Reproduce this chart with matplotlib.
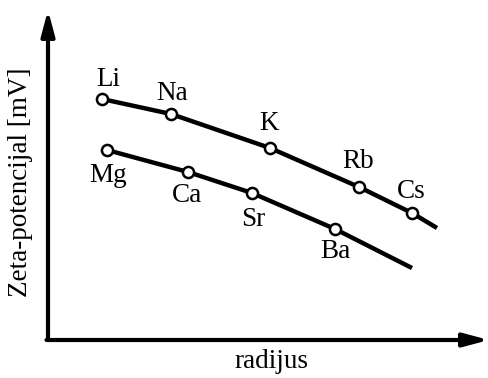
import numpy as np
import matplotlib
matplotlib.use("Agg")
import matplotlib.pyplot as plt

# alkali metals (upper curve) and alkaline earth metals (lower curve)
alkali = ["Li", "Na", "K", "Rb", "Cs"]
alkali_r = [54, 123, 222, 311, 364]
alkali_zeta = [241, 226, 192, 153, 127]
alkali_tail = (389, 112)

earth = ["Mg", "Ca", "Sr", "Ba"]
earth_r = [59, 140, 204, 287]
earth_zeta = [190, 168, 147, 111]
earth_tail = (364, 72)

# label offsets (dx, dy) per ion
alkali_off = [(6, 20), (1, 21), (-1, 25), (-1, 25), (-1, 22)]
earth_off = [(1, -25), (-1, -23), (1, -27), (0, -23)]

plt.rcParams["font.family"] = ["Liberation Serif", "DejaVu Serif"]

fig = plt.figure(figsize=(4.89, 3.78), dpi=100)
ax = fig.add_axes([0, 0, 1, 1])
ax.set_xlim(-48, 441)
ax.set_ylim(-38, 340)
ax.axis("off")

# axes with arrow heads
arrow = dict(arrowstyle="-|>,head_length=1.5,head_width=0.4", lw=3, color="black",
             shrinkA=0, shrinkB=0)
ax.annotate("", xy=(0, 330), xytext=(0, 0), arrowprops=arrow)
ax.annotate("", xy=(441, 0), xytext=(-1.5, 0), arrowprops=arrow)

for names, r, z, tail, off in [(alkali, alkali_r, alkali_zeta, alkali_tail, alkali_off),
                               (earth, earth_r, earth_zeta, earth_tail, earth_off)]:
    xs = list(r) + [tail[0]]
    ys = list(z) + [tail[1]]
    ax.plot(xs, ys, color="black", lw=3.2, solid_capstyle="butt", zorder=2)
    ax.plot(r, z, "o", ms=8, mfc="white", mec="black", mew=1.8, zorder=3)
    for name, x, y, (dx, dy) in zip(names, r, z, off):
        ax.text(x + dx, y + dy, name, fontsize=19.5, ha="center", va="center")

ax.text(223, -22, "radijus", fontsize=19.5, ha="center", va="center")
ax.text(-27, 158, "Zeta-potencijal [mV]", fontsize=19.5, ha="center", va="center",
        rotation=90)

fig.savefig("out.png", dpi=100)
